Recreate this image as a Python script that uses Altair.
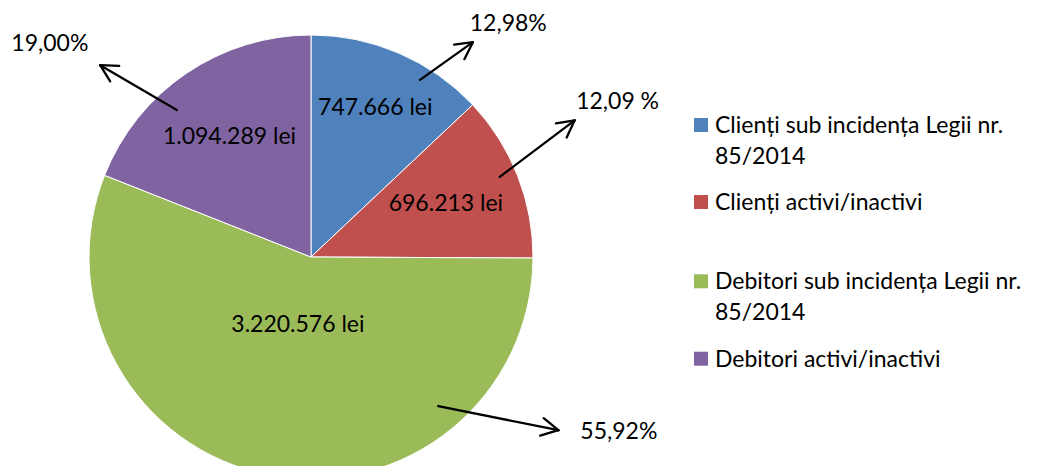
import math
import altair as alt
import pandas as pd

# ---- data ----
categories = [
    "Clienți sub incidența Legii nr. 85/2014",
    "Clienți activi/inactivi",
    "Debitori sub incidența Legii nr. 85/2014",
    "Debitori activi/inactivi",
]
values = [747666, 696213, 3220576, 1094289]
value_labels = ["747.666 lei", "696.213 lei", "3.220.576 lei", "1.094.289 lei"]
pct_labels = ["12,98%", "12,09 %", "55,92%", "19,00%"]
legend_lines = [
    ["Clienți sub incidența Legii nr.", "85/2014"],
    ["Clienți activi/inactivi"],
    ["Debitori sub incidența Legii nr.", "85/2014"],
    ["Debitori activi/inactivi"],
]
colors = ["#4F81BD", "#C0504D", "#9BBB59", "#8064A2"]

# ---- layout (pixels, polar annotations) ----
W, H = 1022, 458
CX, CY, R = 303, 249, 222
FONT = "Lato"
FS = 23
LEG_FS = 23
label_radius = [162, 145, 69, 145]
pct_polar = [(305, 40.3), (343.5, 63.2), (354, 119.6), (337, 309.2)]
arrow_polar = [(208, 31.6, 269, 37.0), (205, 67.0, 297, 62.6),
               (196, 139.5, 302, 125.0), (199, 317.6, 285, 312.3)]
HEAD_LEN, HEAD_ANG = 19, 28
LEG_SYM_X, LEG_TEXT_X, LEG_SYM = 693, 707, 14
legend_baselines = [125, 202, 281.3, 358.7]
LINE_H = 31


def polar(r, deg):
    a = math.radians(deg)
    return CX + r * math.sin(a), CY - r * math.cos(a)


df = pd.DataFrame({
    "category": categories,
    "value": values,
    "idx": list(range(len(values))),
    "vlabel": value_labels,
    "lr": label_radius,
})

color_scale = alt.Scale(domain=categories, range=colors)

arcs = alt.Chart(df).mark_arc(radius=R, stroke="white", strokeWidth=1).encode(
    theta=alt.Theta("value:Q", stack=True),
    color=alt.Color("category:N", scale=color_scale, legend=None),
    order=alt.Order("idx:Q"),
    x=alt.value(CX),
    y=alt.value(CY),
)

vtext = alt.Chart(df).transform_joinaggregate(
    total="sum(value)"
).transform_window(
    cum="sum(value)", sort=[alt.SortField("idx")], frame=[None, 0]
).transform_calculate(
    mid="(datum.cum - datum.value / 2) / datum.total * 2 * PI",
    px=f"{CX} + datum.lr * sin(datum.mid)",
    py=f"{CY} - datum.lr * cos(datum.mid)",
).mark_text(font=FONT, fontSize=FS, color="black", align="center", baseline="middle").encode(
    x=alt.X("px:Q", scale=None, axis=None),
    y=alt.Y("py:Q", scale=None, axis=None),
    text="vlabel:N",
)

# percentage labels
prow = []
for lab, (r, a) in zip(pct_labels, pct_polar):
    x, y = polar(r, a)
    prow.append({"t": lab, "x": x, "y": y})
ptext = alt.Chart(pd.DataFrame(prow)).mark_text(
    font=FONT, fontSize=FS, color="black", align="center", baseline="middle"
).encode(x=alt.X("x:Q", scale=None, axis=None), y=alt.Y("y:Q", scale=None, axis=None), text="t:N")

# arrows
arow = []
for i, (r1, a1, r2, a2) in enumerate(arrow_polar):
    x1, y1 = polar(r1, a1)
    x2, y2 = polar(r2, a2)
    arow.append({"x": x1, "y": y1, "x2": x2, "y2": y2})
    back = math.atan2(y1 - y2, x1 - x2)
    for s in (-1, 1):
        b = back + s * math.radians(HEAD_ANG)
        arow.append({"x": x2, "y": y2, "x2": x2 + HEAD_LEN * math.cos(b), "y2": y2 + HEAD_LEN * math.sin(b)})
arrows = alt.Chart(pd.DataFrame(arow)).mark_rule(color="black", strokeWidth=2.3, strokeCap="round").encode(
    x=alt.X("x:Q", scale=None, axis=None), y=alt.Y("y:Q", scale=None, axis=None),
    x2="x2:Q", y2="y2:Q",
)

# legend
lsym = pd.DataFrame({"category": categories,
                     "x": [LEG_SYM_X] * 4,
                     "y": [b - 8 for b in legend_baselines]})
legend_sym = alt.Chart(lsym).mark_square(size=LEG_SYM * LEG_SYM, opacity=1).encode(
    x=alt.X("x:Q", scale=None, axis=None), y=alt.Y("y:Q", scale=None, axis=None),
    color=alt.Color("category:N", scale=color_scale, legend=None),
)
lrows = []
for lines, b in zip(legend_lines, legend_baselines):
    for j, ln in enumerate(lines):
        lrows.append({"t": ln, "x": LEG_TEXT_X, "y": b + j * LINE_H})
legend_text = alt.Chart(pd.DataFrame(lrows)).mark_text(
    font=FONT, fontSize=LEG_FS, color="black", align="left", baseline="alphabetic"
).encode(x=alt.X("x:Q", scale=None, axis=None), y=alt.Y("y:Q", scale=None, axis=None), text="t:N")

chart = alt.layer(arcs, vtext, arrows, ptext, legend_sym, legend_text).properties(
    width=W, height=H, autosize=alt.AutoSizeParams(type="none"), padding=0
).configure_view(stroke=None)

chart.save("out.html", embed_options={"renderer": "svg", "actions": False})
